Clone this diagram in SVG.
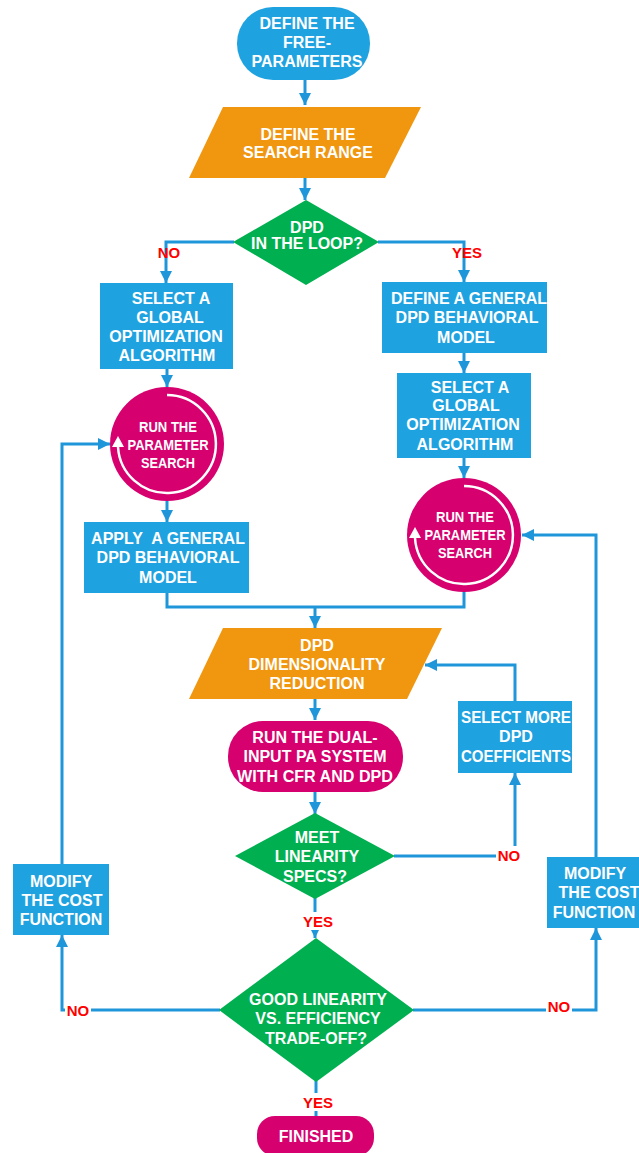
<svg xmlns="http://www.w3.org/2000/svg" width="639" height="1153" viewBox="0 0 639 1153">
  <defs>
    <marker id="arr" viewBox="0 0 10 10" refX="10" refY="5" markerWidth="12" markerHeight="12" markerUnits="userSpaceOnUse" orient="auto">
      <path d="M0,0 L10,5 L0,10 z" fill="#1e96d9"/>
    </marker>
    <marker id="arrSmall" viewBox="0 0 10 10" refX="10" refY="5" markerWidth="8" markerHeight="8" markerUnits="userSpaceOnUse" orient="auto">
      <path d="M0,0 L10,5 L0,10 z" fill="#1e96d9"/>
    </marker>
    <style>
      .box { fill: #1fa2e0; }
      .io { fill: #f0960f; }
      .dec { fill: #00b050; }
      .run { fill: #d6006e; }
      .start { fill: #1fa2e0; }
      .t { font-family: "Liberation Sans", Arial, sans-serif; font-weight: bold; font-size: 16px; fill: #ffffff; text-anchor: middle; }
      .tn { font-family: "Liberation Sans", Arial, sans-serif; font-weight: bold; font-size: 15px; fill: #ffffff; text-anchor: middle; }
      .lbl { font-family: "Liberation Sans", Arial, sans-serif; font-weight: bold; font-size: 15px; fill: #ff0000; text-anchor: middle; }
      .con { fill: none; stroke: #1e96d9; stroke-width: 3; }
      .loop { fill: none; stroke: #ffffff; stroke-width: 2.5; }
    </style>
  </defs>

  <rect width="639" height="1153" fill="#ffffff"/>

  <!-- connectors -->
  <g id="connectors">
    <path class="con" d="M305,80 V105" marker-end="url(#arr)"/>
    <path class="con" d="M305,178 V200" marker-end="url(#arr)"/>
    <path class="con" d="M234,242 H166 V283" marker-end="url(#arr)"/>
    <path class="con" d="M378,242 H464 V282" marker-end="url(#arr)"/>
    <path class="con" d="M167,369 V387" marker-end="url(#arr)"/>
    <path class="con" d="M167,501 V522" marker-end="url(#arr)"/>
    <path class="con" d="M464,353 V373" marker-end="url(#arr)"/>
    <path class="con" d="M464,458 V478" marker-end="url(#arr)"/>
    <path class="con" d="M167,593 V607 H464 V592"/>
    <path class="con" d="M315,607 V628" marker-end="url(#arr)"/>
    <path class="con" d="M315,699 V720" marker-end="url(#arr)"/>
    <path class="con" d="M315,792 V814" marker-end="url(#arr)"/>
    <path class="con" d="M394,856 H515 V773" marker-end="url(#arr)"/>
    <path class="con" d="M515,701 V665 H425" marker-end="url(#arr)"/>
    <path class="con" d="M315,898 V912"/>
    <path class="con" d="M315,930 V938" marker-end="url(#arrSmall)"/>
    <path class="con" d="M220,1010 H62 V935" marker-end="url(#arr)"/>
    <path class="con" d="M62,864 V444 H110" marker-end="url(#arr)"/>
    <path class="con" d="M413,1010 H596 V928" marker-end="url(#arr)"/>
    <path class="con" d="M596,857 V535 H522" marker-end="url(#arr)"/>
    <path class="con" d="M316,1081 V1093"/>
    <path class="con" d="M316,1111 V1116"/>
  </g>

  <!-- branch labels -->
  <g id="labels">
    <text class="lbl" x="169" y="258">NO</text>
    <text class="lbl" x="467" y="258">YES</text>
    <rect x="496" y="846" width="26" height="18" fill="#ffffff"/>
    <text class="lbl" x="509" y="861">NO</text>
    <text class="lbl" x="318" y="927">YES</text>
    <rect x="65" y="1002" width="26" height="17" fill="#ffffff"/>
    <text class="lbl" x="78" y="1016">NO</text>
    <rect x="546" y="998" width="26" height="17" fill="#ffffff"/>
    <text class="lbl" x="559" y="1012">NO</text>
    <text class="lbl" x="318" y="1108">YES</text>
  </g>

  <g id="define-free-parameters">
    <rect class="start" x="237" y="7" width="133" height="73" rx="36" ry="36"/>
    <text class="t" x="307" y="29">DEFINE THE</text>
    <text class="t" x="307" y="48">FREE-</text>
    <text class="t" x="307" y="67">PARAMETERS</text>
  </g>

  <g id="define-search-range">
    <polygon class="io" points="223,107 421,107 385,178 189,178"/>
    <text class="t" x="308" y="140">DEFINE THE</text>
    <text class="t" x="308" y="158">SEARCH RANGE</text>
  </g>

  <g id="dpd-in-loop">
    <polygon class="dec" points="306,200 379,242 306,285 233,242"/>
    <text class="t" x="307" y="233">DPD</text>
    <text class="t" x="307" y="249">IN THE LOOP?</text>
  </g>

  <g id="select-algorithm-left">
    <rect class="box" x="100" y="283" width="133" height="86"/>
    <text class="t" x="171" y="304">SELECT A</text>
    <text class="t" x="170" y="323">GLOBAL</text>
    <text class="t" x="166" y="342">OPTIMIZATION</text>
    <text class="t" x="167" y="361">ALGORITHM</text>
  </g>

  <g id="run-search-left">
    <circle class="run" cx="167" cy="444" r="57"/>
    <path class="loop" d="M167,395 A49,49 0 1 1 118,447"/>
    <polygon points="118,436 112,447 124,447" fill="#ffffff"/>
    <text class="tn" x="168" y="432" textLength="58" lengthAdjust="spacingAndGlyphs">RUN THE</text>
    <text class="tn" x="168" y="450" textLength="81" lengthAdjust="spacingAndGlyphs">PARAMETER</text>
    <text class="tn" x="168" y="468" textLength="54" lengthAdjust="spacingAndGlyphs">SEARCH</text>
  </g>

  <g id="apply-model">
    <rect class="box" x="84" y="522" width="165" height="71"/>
    <text class="t" x="168" y="544">APPLY&#160; A GENERAL</text>
    <text class="t" x="168" y="563">DPD BEHAVIORAL</text>
    <text class="t" x="168" y="583">MODEL</text>
  </g>

  <g id="define-model-right">
    <rect class="box" x="382" y="282" width="165" height="71"/>
    <text class="t" x="469" y="304">DEFINE A GENERAL</text>
    <text class="t" x="467" y="323">DPD BEHAVIORAL</text>
    <text class="t" x="466" y="343">MODEL</text>
  </g>

  <g id="select-algorithm-right">
    <rect class="box" x="397" y="373" width="134" height="85"/>
    <text class="t" x="470" y="393">SELECT A</text>
    <text class="t" x="466" y="411">GLOBAL</text>
    <text class="t" x="463" y="430">OPTIMIZATION</text>
    <text class="t" x="465" y="450">ALGORITHM</text>
  </g>

  <g id="run-search-right">
    <circle class="run" cx="464" cy="535" r="57"/>
    <path class="loop" d="M464,486 A49,49 0 1 1 415,538"/>
    <polygon points="415,527 409,538 421,538" fill="#ffffff"/>
    <text class="tn" x="465" y="522" textLength="58" lengthAdjust="spacingAndGlyphs">RUN THE</text>
    <text class="tn" x="465" y="540" textLength="81" lengthAdjust="spacingAndGlyphs">PARAMETER</text>
    <text class="tn" x="465" y="558" textLength="54" lengthAdjust="spacingAndGlyphs">SEARCH</text>
  </g>

  <g id="dimensionality-reduction">
    <polygon class="io" points="223,628 442,628 407,699 189,699"/>
    <text class="t" x="317" y="651">DPD</text>
    <text class="t" x="317" y="670">DIMENSIONALITY</text>
    <text class="t" x="317" y="689">REDUCTION</text>
  </g>

  <g id="run-pa-system">
    <rect class="run" x="228" y="721" width="175" height="71" rx="35" ry="35"/>
    <text class="t" x="315" y="743">RUN THE DUAL-</text>
    <text class="t" x="315" y="762">INPUT PA SYSTEM</text>
    <text class="t" x="315" y="782" textLength="156" lengthAdjust="spacingAndGlyphs">WITH CFR AND DPD</text>
  </g>

  <g id="select-more-coefficients">
    <rect class="box" x="458" y="701" width="114" height="72"/>
    <text class="t" x="516" y="723" textLength="110" lengthAdjust="spacingAndGlyphs">SELECT MORE</text>
    <text class="t" x="516" y="742">DPD</text>
    <text class="t" x="516" y="762" textLength="110" lengthAdjust="spacingAndGlyphs">COEFFICIENTS</text>
  </g>

  <g id="meet-linearity">
    <polygon class="dec" points="315,813 395,856 315,899 235,856"/>
    <text class="t" x="317" y="843">MEET</text>
    <text class="t" x="317" y="862">LINEARITY</text>
    <text class="t" x="315" y="882">SPECS?</text>
  </g>

  <g id="tradeoff">
    <polygon class="dec" points="316,938 414,1010 316,1082 219,1010"/>
    <text class="t" x="318" y="1005">GOOD LINEARITY</text>
    <text class="t" x="318" y="1024">VS. EFFICIENCY</text>
    <text class="t" x="316" y="1044">TRADE-OFF?</text>
  </g>

  <g id="modify-cost-left">
    <rect class="box" x="13" y="864" width="96" height="71"/>
    <text class="t" x="61" y="887">MODIFY</text>
    <text class="t" x="62" y="906">THE COST</text>
    <text class="t" x="61" y="925">FUNCTION</text>
  </g>

  <g id="modify-cost-right">
    <rect class="box" x="547" y="857" width="100" height="71"/>
    <text class="t" x="595" y="879">MODIFY</text>
    <text class="t" x="599" y="898">THE COST</text>
    <text class="t" x="594" y="918">FUNCTION</text>
  </g>

  <g id="finished">
    <rect class="run" x="257" y="1116" width="117" height="40" rx="18" ry="18"/>
    <text class="t" x="316" y="1142">FINISHED</text>
  </g>
</svg>
